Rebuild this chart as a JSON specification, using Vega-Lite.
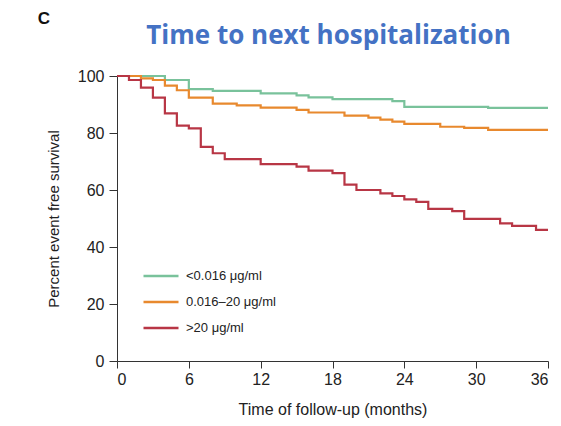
{
  "$schema": "https://vega.github.io/schema/vega-lite/v6.json",
  "width": 431,
  "height": 285,
  "autosize": {"type": "none"},
  "padding": {"left": 117, "top": 76, "right": 13, "bottom": 65},
  "background": "white",
  "config": {"view": {"stroke": null}, "font": "Liberation Sans"},
  "title": {
    "text": "Time to next hospitalization",
    "font": "Open Sans",
    "fontSize": 26,
    "fontWeight": "bold",
    "color": "#4472C4",
    "baseline": "alphabetic",
    "offset": -60,
    "anchor": "middle",
    "dx": -4
  },
  "datasets": {
    "km": [
      {"group": "<0.016 μg/ml", "month": 0, "survival": 100},
      {"group": "<0.016 μg/ml", "month": 4, "survival": 98.6},
      {"group": "<0.016 μg/ml", "month": 6, "survival": 95.4},
      {"group": "<0.016 μg/ml", "month": 8, "survival": 94.8},
      {"group": "<0.016 μg/ml", "month": 12, "survival": 93.9},
      {"group": "<0.016 μg/ml", "month": 15, "survival": 93.2},
      {"group": "<0.016 μg/ml", "month": 16, "survival": 92.5},
      {"group": "<0.016 μg/ml", "month": 18, "survival": 91.9},
      {"group": "<0.016 μg/ml", "month": 23, "survival": 91.2},
      {"group": "<0.016 μg/ml", "month": 24, "survival": 89.2},
      {"group": "<0.016 μg/ml", "month": 31, "survival": 88.8},
      {"group": "<0.016 μg/ml", "month": 36, "survival": 88.8},
      {"group": "0.016–20 μg/ml", "month": 0, "survival": 100},
      {"group": "0.016–20 μg/ml", "month": 2, "survival": 99.2},
      {"group": "0.016–20 μg/ml", "month": 3, "survival": 98.6},
      {"group": "0.016–20 μg/ml", "month": 4, "survival": 96.6},
      {"group": "0.016–20 μg/ml", "month": 5, "survival": 95.0},
      {"group": "0.016–20 μg/ml", "month": 6, "survival": 92.4},
      {"group": "0.016–20 μg/ml", "month": 8, "survival": 90.3},
      {"group": "0.016–20 μg/ml", "month": 10, "survival": 89.7},
      {"group": "0.016–20 μg/ml", "month": 12, "survival": 88.9},
      {"group": "0.016–20 μg/ml", "month": 15, "survival": 88.1},
      {"group": "0.016–20 μg/ml", "month": 16, "survival": 87.2},
      {"group": "0.016–20 μg/ml", "month": 19, "survival": 86.1},
      {"group": "0.016–20 μg/ml", "month": 21, "survival": 85.4},
      {"group": "0.016–20 μg/ml", "month": 22, "survival": 84.7},
      {"group": "0.016–20 μg/ml", "month": 23, "survival": 84.0},
      {"group": "0.016–20 μg/ml", "month": 24, "survival": 83.2},
      {"group": "0.016–20 μg/ml", "month": 27, "survival": 82.2},
      {"group": "0.016–20 μg/ml", "month": 29, "survival": 81.8},
      {"group": "0.016–20 μg/ml", "month": 31, "survival": 81.1},
      {"group": "0.016–20 μg/ml", "month": 36, "survival": 81.1},
      {"group": ">20 μg/ml", "month": 0, "survival": 100},
      {"group": ">20 μg/ml", "month": 1, "survival": 98.6},
      {"group": ">20 μg/ml", "month": 2, "survival": 95.9},
      {"group": ">20 μg/ml", "month": 3, "survival": 92.4},
      {"group": ">20 μg/ml", "month": 4, "survival": 86.9},
      {"group": ">20 μg/ml", "month": 5, "survival": 82.6},
      {"group": ">20 μg/ml", "month": 6, "survival": 81.6},
      {"group": ">20 μg/ml", "month": 7, "survival": 75.1},
      {"group": ">20 μg/ml", "month": 8, "survival": 72.9},
      {"group": ">20 μg/ml", "month": 9, "survival": 70.8},
      {"group": ">20 μg/ml", "month": 12, "survival": 69.1},
      {"group": ">20 μg/ml", "month": 15, "survival": 68.2},
      {"group": ">20 μg/ml", "month": 16, "survival": 66.8},
      {"group": ">20 μg/ml", "month": 18, "survival": 65.9},
      {"group": ">20 μg/ml", "month": 19, "survival": 61.9},
      {"group": ">20 μg/ml", "month": 20, "survival": 60.0},
      {"group": ">20 μg/ml", "month": 22, "survival": 58.8},
      {"group": ">20 μg/ml", "month": 23, "survival": 57.9},
      {"group": ">20 μg/ml", "month": 24, "survival": 56.7},
      {"group": ">20 μg/ml", "month": 25, "survival": 55.8},
      {"group": ">20 μg/ml", "month": 26, "survival": 53.4},
      {"group": ">20 μg/ml", "month": 28, "survival": 52.6},
      {"group": ">20 μg/ml", "month": 29, "survival": 49.9},
      {"group": ">20 μg/ml", "month": 32, "survival": 48.3},
      {"group": ">20 μg/ml", "month": 33, "survival": 47.4},
      {"group": ">20 μg/ml", "month": 35, "survival": 46.0},
      {"group": ">20 μg/ml", "month": 36, "survival": 46.0}
    ],
    "panel": [{"label": "C", "month": -6.1, "survival": 118.3}]
  },
  "layer": [
    {
      "data": {"name": "km"},
      "mark": {"type": "line", "interpolate": "step-after", "strokeWidth": 2.2},
      "encoding": {
        "x": {
          "field": "month",
          "type": "quantitative",
          "scale": {"domain": [0, 36], "nice": false, "zero": false},
          "axis": {
            "values": [0, 6, 12, 18, 24, 30, 36],
            "title": "Time of follow-up (months)",
            "grid": false,
            "domainColor": "#333",
            "tickColor": "#333",
            "tickSize": 7,
            "labelPadding": 3,
            "labelFontSize": 16,
            "labelColor": "#222",
            "titleFontSize": 16,
            "titleFontWeight": "normal",
            "titleColor": "#222",
            "titlePadding": 14
          }
        },
        "y": {
          "field": "survival",
          "type": "quantitative",
          "scale": {"domain": [0, 100], "nice": false},
          "axis": {
            "values": [0, 20, 40, 60, 80, 100],
            "title": "Percent event free survival",
            "grid": false,
            "domainColor": "#333",
            "tickColor": "#333",
            "tickSize": 8,
            "labelPadding": 5,
            "labelFontSize": 16,
            "labelColor": "#222",
            "titleFontSize": 15,
            "titleFontWeight": "normal",
            "titleColor": "#222",
            "titlePadding": 16
          }
        },
        "color": {
          "field": "group",
          "type": "nominal",
          "scale": {
            "domain": ["<0.016 μg/ml", "0.016–20 μg/ml", ">20 μg/ml"],
            "range": ["#79C29B", "#E8892E", "#B83645"]
          },
          "legend": {
            "title": null,
            "orient": "none",
            "legendX": 25,
            "legendY": 181,
            "symbolType": "stroke",
            "symbolSize": 1225,
            "symbolStrokeWidth": 2.5,
            "rowPadding": -9,
            "labelOffset": 6,
            "labelFontSize": 13,
            "labelColor": "#222",
            "padding": 0
          }
        }
      }
    },
    {
      "data": {"name": "panel"},
      "mark": {"type": "text", "fontSize": 17, "fontWeight": "bold", "font": "Liberation Sans", "baseline": "alphabetic", "align": "center", "color": "#111"},
      "encoding": {
        "x": {"field": "month", "type": "quantitative"},
        "y": {"field": "survival", "type": "quantitative"},
        "text": {"field": "label"}
      }
    }
  ]
}
